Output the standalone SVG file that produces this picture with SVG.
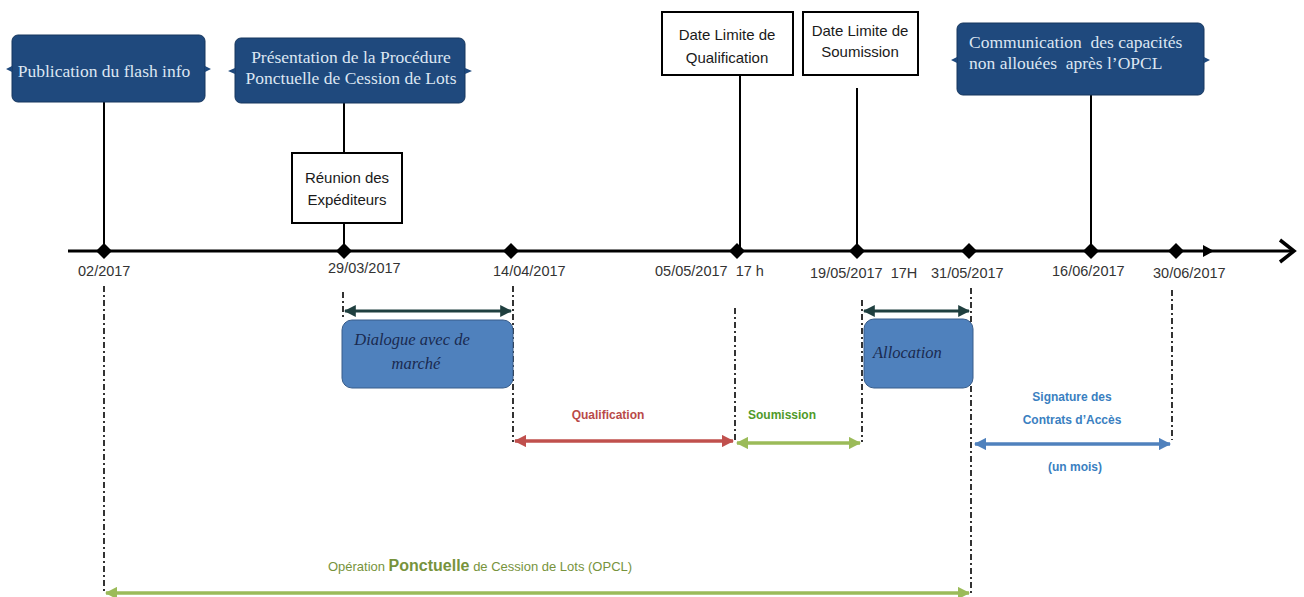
<svg xmlns="http://www.w3.org/2000/svg" width="1304" height="597" viewBox="0 0 1304 597">
<style>
.navy{fill:#1f497d;stroke:#17375e;stroke-width:1}
.wbox{fill:#fff;stroke:#000;stroke-width:2}
.ntxt{font-family:"Liberation Serif",serif;font-size:17.5px;fill:#dce6f2}
.btxt{font-family:"Liberation Sans",sans-serif;font-size:15px;fill:#1a1a1a}
.date{font-family:"Liberation Sans",sans-serif;font-size:14.5px;fill:#333}
.vline{stroke:#000;stroke-width:2;fill:none}
.dd{stroke:#000;stroke-width:1.6;stroke-dasharray:6,3,2,3;fill:none}
.lbox{fill:#4f81bd;stroke:#385d8a;stroke-width:1}
.itxt{font-family:"Liberation Serif",serif;font-style:italic;font-size:16.5px;fill:#1a2a50}
.lbl{font-family:"Liberation Sans",sans-serif;font-size:12px;font-weight:bold}
</style>
<defs>
<marker id="aDk" viewBox="0 0 10 10" refX="9" refY="5" markerWidth="4" markerHeight="4" orient="auto-start-reverse"><path d="M0,0 L10,5 L0,10 z" fill="#1f3f3f"/></marker>
<marker id="aRd" viewBox="0 0 10 10" refX="9" refY="5" markerWidth="3.5" markerHeight="3.5" orient="auto-start-reverse"><path d="M0,0 L10,5 L0,10 z" fill="#c0504d"/></marker>
<marker id="aGr" viewBox="0 0 10 10" refX="9" refY="5" markerWidth="3.5" markerHeight="3.5" orient="auto-start-reverse"><path d="M0,0 L10,5 L0,10 z" fill="#9bbb59"/></marker>
<marker id="aBl" viewBox="0 0 10 10" refX="9" refY="5" markerWidth="3.5" markerHeight="3.5" orient="auto-start-reverse"><path d="M0,0 L10,5 L0,10 z" fill="#4f81bd"/></marker>
<path id="dia" d="M0,-8 L8,0 L0,8 L-8,0 z" fill="#000"/>
</defs>

<g id="connectors">
  <line x1="68" y1="251" x2="1292" y2="251" stroke="#000" stroke-width="3"/>
  <path d="M1280,240 L1294,251 L1280,262" stroke="#000" stroke-width="3.5" fill="none"/>
  <path d="M1203,245 L1214,251 L1203,257 z" fill="#000"/>
  <line class="vline" x1="104" y1="102" x2="104" y2="251"/>
  <line class="vline" x1="344" y1="103" x2="344" y2="153"/>
  <line class="vline" x1="344" y1="223" x2="344" y2="251"/>
  <line class="vline" x1="740" y1="75" x2="740" y2="251"/>
  <line class="vline" x1="857" y1="88" x2="857" y2="251"/>
  <line class="vline" x1="1091" y1="95" x2="1091" y2="251"/>
  <use href="#dia" x="104" y="251"/>
  <use href="#dia" x="344" y="251"/>
  <use href="#dia" x="511" y="251"/>
  <use href="#dia" x="737" y="251"/>
  <use href="#dia" x="857" y="251"/>
  <use href="#dia" x="969" y="251"/>
  <use href="#dia" x="1091" y="251"/>
  <use href="#dia" x="1176" y="251"/>
  <line class="dd" x1="104" y1="286" x2="104" y2="593"/>
  <line class="dd" x1="343" y1="292" x2="343" y2="320"/>
  <line class="dd" x1="513" y1="286" x2="513" y2="442"/>
  <line class="dd" x1="735" y1="308" x2="735" y2="442"/>
  <line class="dd" x1="862" y1="300" x2="862" y2="442"/>
  <line class="dd" x1="971" y1="288" x2="971" y2="593"/>
  <line class="dd" x1="1172" y1="290" x2="1172" y2="440"/>
  <line x1="345" y1="311" x2="511" y2="311" stroke="#1f3f3f" stroke-width="3" marker-start="url(#aDk)" marker-end="url(#aDk)"/>
  <line x1="864" y1="311" x2="969" y2="311" stroke="#1f3f3f" stroke-width="3" marker-start="url(#aDk)" marker-end="url(#aDk)"/>
  <line x1="515" y1="441" x2="733" y2="441" stroke="#c0504d" stroke-width="3.5" marker-start="url(#aRd)" marker-end="url(#aRd)"/>
  <line x1="737" y1="443" x2="860" y2="443" stroke="#9bbb59" stroke-width="3.5" marker-start="url(#aGr)" marker-end="url(#aGr)"/>
  <line x1="975" y1="444" x2="1170" y2="444" stroke="#4f81bd" stroke-width="3.5" marker-start="url(#aBl)" marker-end="url(#aBl)"/>
  <line x1="106" y1="593" x2="969" y2="593" stroke="#9bbb59" stroke-width="3.5" marker-start="url(#aGr)" marker-end="url(#aGr)"/>
</g>

<g id="n-publication">
  <rect class="navy" x="12" y="35" width="193" height="67" rx="6"/>
  <path d="M12,66 L6,69 L12,72 z M205,66 L211,69 L205,72 z" fill="#1f497d"/>
  <text class="ntxt" x="104" y="77" text-anchor="middle">Publication du flash info</text>
</g>
<g id="n-presentation">
  <rect class="navy" x="235" y="38" width="230" height="65" rx="6"/>
  <path d="M235,68 L228,71 L235,74 z M465,68 L472,71 L465,74 z" fill="#1f497d"/>
  <text class="ntxt" x="351" y="63" text-anchor="middle" font-size="17">Présentation de la Procédure</text>
  <text class="ntxt" x="351" y="84" text-anchor="middle" font-size="17">Ponctuelle de Cession de Lots</text>
</g>
<g id="n-reunion">
  <rect class="wbox" x="292" y="153" width="110" height="70"/>
  <text class="btxt" x="347" y="183" text-anchor="middle">Réunion des</text>
  <text class="btxt" x="347" y="205" text-anchor="middle">Expéditeurs</text>
</g>
<g id="n-dlq">
  <rect class="wbox" x="662" y="12" width="131" height="63"/>
  <text class="btxt" x="727" y="40" text-anchor="middle">Date Limite de</text>
  <text class="btxt" x="727" y="63" text-anchor="middle">Qualification</text>
</g>
<g id="n-dls">
  <rect class="wbox" x="803" y="12" width="115" height="63"/>
  <text class="btxt" x="860" y="36" text-anchor="middle">Date Limite de</text>
  <text class="btxt" x="860" y="57" text-anchor="middle">Soumission</text>
</g>
<g id="n-communication">
  <rect class="navy" x="957" y="23" width="247" height="72" rx="6"/>
  <path d="M957,57 L951,60 L957,63 z M1204,57 L1210,60 L1204,63 z" fill="#1f497d"/>
  <text class="ntxt" x="969" y="48" xml:space="preserve">Communication  des capacités</text>
  <text class="ntxt" x="969" y="69" xml:space="preserve">non allouées  après l’OPCL</text>
</g>

<g id="dates">
  <text class="date" x="78" y="276">02/2017</text>
  <text class="date" x="328" y="273">29/03/2017</text>
  <text class="date" x="493" y="276">14/04/2017</text>
  <text class="date" x="655" y="276" xml:space="preserve">05/05/2017  17 h</text>
  <text class="date" x="810" y="278" xml:space="preserve">19/05/2017  17H</text>
  <text class="date" x="931" y="278">31/05/2017</text>
  <text class="date" x="1052" y="276">16/06/2017</text>
  <text class="date" x="1153" y="278">30/06/2017</text>
</g>

<g id="n-dialogue">
  <rect class="lbox" x="342" y="320" width="171" height="68" rx="10"/>
  <text class="itxt" x="412" y="345" text-anchor="middle">Dialogue avec de</text>
  <text class="itxt" x="416" y="369" text-anchor="middle">marché</text>
</g>
<g id="n-allocation">
  <rect class="lbox" x="864" y="319" width="109" height="69" rx="10"/>
  <text class="itxt" x="873" y="358" font-size="17">Allocation</text>
</g>

<g id="labels">
  <text class="lbl" x="608" y="419" text-anchor="middle" fill="#b94a48">Qualification</text>
  <text class="lbl" x="782" y="419" text-anchor="middle" fill="#4f9a2a">Soumission</text>
  <text class="lbl" x="1072" y="401" text-anchor="middle" fill="#3a7fc1">Signature des</text>
  <text class="lbl" x="1072" y="424" text-anchor="middle" fill="#3a7fc1">Contrats d’Accès</text>
  <text class="lbl" x="1075" y="471" text-anchor="middle" fill="#3a7fc1">(un mois)</text>
  <text x="480" y="571" text-anchor="middle" font-family="Liberation Sans, sans-serif" font-size="13" fill="#77933c">Opération <tspan font-size="16" font-weight="bold">Ponctuelle</tspan> de Cession de Lots (OPCL)</text>
</g>
</svg>
